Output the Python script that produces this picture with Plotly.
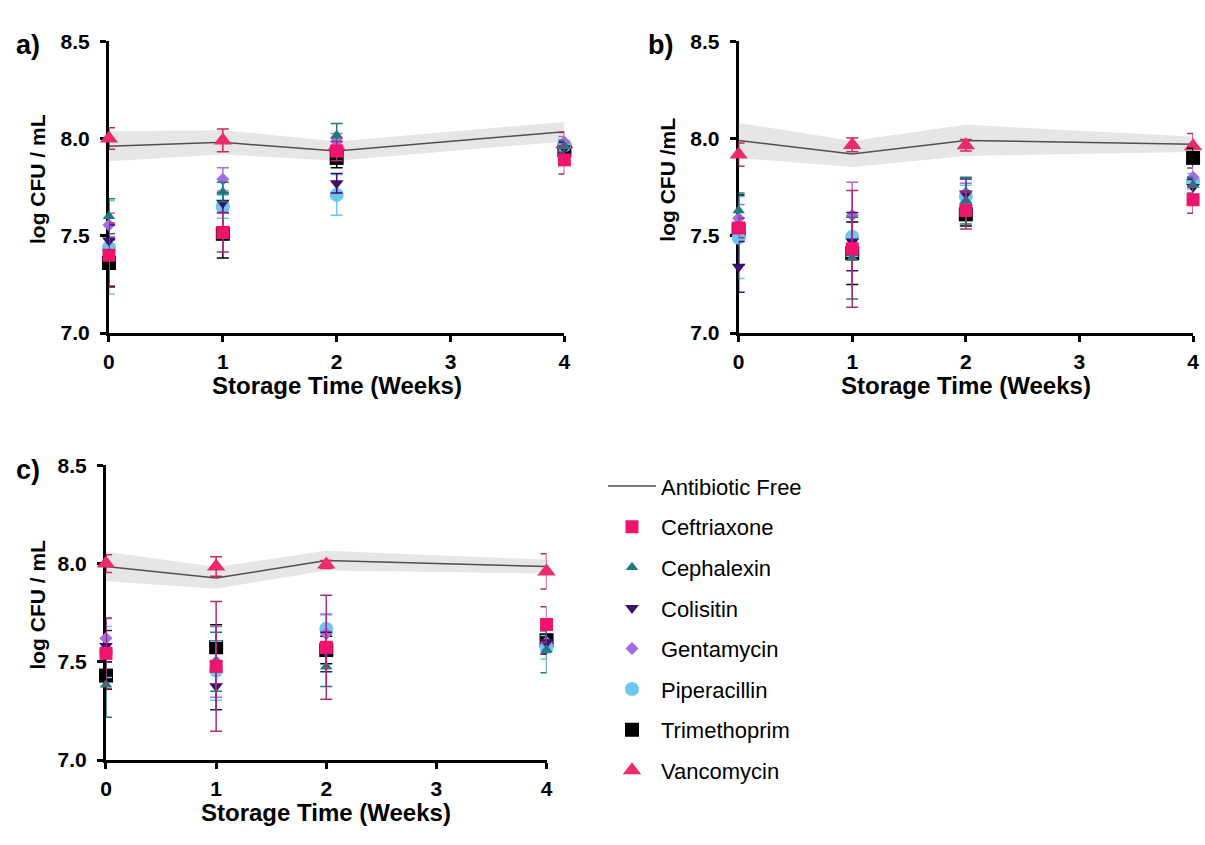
import plotly.graph_objects as go

W, H = 1205, 845

weeks = [0, 1, 2, 4]
x_ticks = [0, 1, 2, 3, 4]
y_ticks = [7.0, 7.5, 8.0, 8.5]
y_tick_labels = ["7.0", "7.5", "8.0", "8.5"]

series_names = ["Ceftriaxone", "Cephalexin", "Colisitin", "Gentamycin",
                "Piperacillin", "Trimethoprim", "Vancomycin"]

# ---- Panel a ----
a_free_mean = [7.96, 7.98, 7.935, 8.035]
a_free_sd = [0.077, 0.062, 0.05, 0.05]
a_ceftriaxone = [7.40, 7.517, 7.935, 7.89]
a_ceftriaxone_sd = [0.165, 0.10, 0.05, 0.073]
a_cephalexin = [7.60, 7.725, 8.017, 7.96]
a_cephalexin_sd = [0.09, 0.05, 0.06, 0.03]
a_colistin = [7.475, 7.67, 7.77, 7.95]
a_colistin_sd = [0.08, 0.05, 0.05, 0.03]
a_gentamycin = [7.555, 7.79, 7.985, 7.98]
a_gentamycin_sd = [0.06, 0.06, 0.04, 0.03]
a_piperacillin = [7.44, 7.65, 7.71, 7.965]
a_piperacillin_sd = [0.24, 0.06, 0.105, 0.03]
a_trimethoprim = [7.36, 7.51, 7.90, 7.94]
a_trimethoprim_sd = [0.12, 0.125, 0.05, 0.03]
a_vancomycin = [8.0, 7.99, 7.96, 7.97]
a_vancomycin_sd = [0.055, 0.058, 0.04, 0.06]

# ---- Panel b ----
b_free_mean = [7.99, 7.92, 7.99, 7.97]
b_free_sd = [0.09, 0.067, 0.08, 0.04]
b_ceftriaxone = [7.54, 7.433, 7.63, 7.685]
b_ceftriaxone_sd = [0.05, 0.30, 0.095, 0.07]
b_cephalexin = [7.63, 7.385, 7.68, 7.76]
b_cephalexin_sd = [0.09, 0.21, 0.12, 0.04]
b_colistin = [7.34, 7.47, 7.717, 7.75]
b_colistin_sd = [0.13, 0.15, 0.075, 0.04]
b_gentamycin = [7.59, 7.605, 7.72, 7.80]
b_gentamycin_sd = [0.07, 0.17, 0.05, 0.05]
b_piperacillin = [7.49, 7.495, 7.70, 7.78]
b_piperacillin_sd = [0.21, 0.10, 0.06, 0.04]
b_trimethoprim = [7.53, 7.41, 7.61, 7.90]
b_trimethoprim_sd = [0.18, 0.16, 0.06, 0.05]
b_vancomycin = [7.917, 7.967, 7.965, 7.96]
b_vancomycin_sd = [0.06, 0.035, 0.03, 0.065]

# ---- Panel c ----
c_free_mean = [7.985, 7.927, 8.015, 7.985]
c_free_sd = [0.075, 0.055, 0.05, 0.035]
c_ceftriaxone = [7.543, 7.477, 7.574, 7.69]
c_ceftriaxone_sd = [0.18, 0.33, 0.265, 0.09]
c_cephalexin = [7.383, 7.50, 7.475, 7.56]
c_cephalexin_sd = [0.165, 0.15, 0.10, 0.115]
c_colistin = [7.58, 7.376, 7.55, 7.60]
c_colistin_sd = [0.08, 0.12, 0.10, 0.06]
c_gentamycin = [7.62, 7.50, 7.643, 7.60]
c_gentamycin_sd = [0.10, 0.18, 0.10, 0.06]
c_piperacillin = [7.55, 7.455, 7.668, 7.574]
c_piperacillin_sd = [0.13, 0.15, 0.07, 0.06]
c_trimethoprim = [7.43, 7.574, 7.56, 7.61]
c_trimethoprim_sd = [0.07, 0.115, 0.07, 0.05]
c_vancomycin = [8.0, 7.985, 7.995, 7.96]
c_vancomycin_sd = [0.045, 0.05, 0.02, 0.09]

panels = {
    "a": dict(free=(a_free_mean, a_free_sd), series=[
        (a_ceftriaxone, a_ceftriaxone_sd), (a_cephalexin, a_cephalexin_sd),
        (a_colistin, a_colistin_sd), (a_gentamycin, a_gentamycin_sd),
        (a_piperacillin, a_piperacillin_sd), (a_trimethoprim, a_trimethoprim_sd),
        (a_vancomycin, a_vancomycin_sd)]),
    "b": dict(free=(b_free_mean, b_free_sd), series=[
        (b_ceftriaxone, b_ceftriaxone_sd), (b_cephalexin, b_cephalexin_sd),
        (b_colistin, b_colistin_sd), (b_gentamycin, b_gentamycin_sd),
        (b_piperacillin, b_piperacillin_sd), (b_trimethoprim, b_trimethoprim_sd),
        (b_vancomycin, b_vancomycin_sd)]),
    "c": dict(free=(c_free_mean, c_free_sd), series=[
        (c_ceftriaxone, c_ceftriaxone_sd), (c_cephalexin, c_cephalexin_sd),
        (c_colistin, c_colistin_sd), (c_gentamycin, c_gentamycin_sd),
        (c_piperacillin, c_piperacillin_sd), (c_trimethoprim, c_trimethoprim_sd),
        (c_vancomycin, c_vancomycin_sd)]),
}

styles = {
    "Ceftriaxone": dict(symbol="square", size=13, color="#F0146C", ecolor="#A8307A"),
    "Cephalexin": dict(symbol="triangle-up", size=11, color="#1F7A7A", ecolor="#1F7A7A"),
    "Colisitin": dict(symbol="triangle-down", size=12, color="#3A0F6E", ecolor="#3A0F6E"),
    "Gentamycin": dict(symbol="diamond", size=10, color="#A56BE3", ecolor="#A56BE3"),
    "Piperacillin": dict(symbol="circle", size=14, color="#6CC7F0", ecolor="#6CC7F0"),
    "Trimethoprim": dict(symbol="square", size=14, color="#000000", ecolor="#000000"),
    "Vancomycin": dict(symbol="triangle-up", size=16, color="#EC2A6E", ecolor="#D02560"),
}

# axis placement (pixels)
geom = {
    "a": dict(x0=104, x1=564, ytop=30, ybot=330, xa="x", ya="y"),
    "b": dict(x0=740, x1=1199, ytop=30, ybot=330, xa="x2", ya="y2"),
    "c": dict(x0=101, x1=546, ytop=466, ybot=769, xa="x3", ya="y3"),
}

fig = go.Figure()

for key, p in panels.items():
    g = geom[key]
    mean, sd = p["free"]
    upper = [m + s for m, s in zip(mean, sd)]
    lower = [m - s for m, s in zip(mean, sd)]
    show = key == "c"
    fig.add_trace(go.Scatter(x=weeks, y=lower, mode="lines", line=dict(width=0, color="#E6E6E6"),
                             xaxis=g["xa"], yaxis=g["ya"], showlegend=False, hoverinfo="skip"))
    fig.add_trace(go.Scatter(x=weeks, y=upper, mode="lines", line=dict(width=0, color="#E6E6E6"),
                             fill="tonexty", fillcolor="#E6E6E6",
                             xaxis=g["xa"], yaxis=g["ya"], showlegend=False, hoverinfo="skip"))
    fig.add_trace(go.Scatter(x=weeks, y=mean, mode="lines", name="Antibiotic Free",
                             line=dict(width=1.5, color="#505050"),
                             legendgroup="free", legendrank=1, showlegend=show,
                             xaxis=g["xa"], yaxis=g["ya"]))
    # reverse draw order: first series on top
    for idx in reversed(range(len(series_names))):
        name = series_names[idx]
        vals, errs = p["series"][idx]
        st = styles[name]
        fig.add_trace(go.Scatter(
            x=weeks, y=vals, mode="markers", name=name,
            marker=dict(symbol=st["symbol"], size=st["size"], color=st["color"],
                        line=dict(width=0)),
            error_y=dict(type="data", array=errs, visible=True, color=st["ecolor"],
                         thickness=1.5, width=6),
            cliponaxis=False, legendgroup=name, legendrank=idx + 2, showlegend=show,
            xaxis=g["xa"], yaxis=g["ya"]))

font_family = "Liberation Sans, Arial, sans-serif"
axis_common = dict(showline=True, linecolor="black", linewidth=3, ticks="outside",
                   ticklen=6, tickwidth=2.5, tickcolor="black", showgrid=False,
                   zeroline=False, layer="below traces",
                   tickfont=dict(family=font_family, size=21, color="black", weight="bold"))

layout = dict(width=W, height=H, margin=dict(l=0, r=0, t=0, b=0),
              paper_bgcolor="white", plot_bgcolor="white",
              font=dict(family=font_family, color="black"))

for key, g in geom.items():
    suffix = "" if key == "a" else ("2" if key == "b" else "3")
    layout["xaxis" + suffix] = dict(domain=[g["x0"] / W, g["x1"] / W], range=[0, 4],
                                    tickvals=x_ticks, anchor="y" + suffix,
                                    ticklabelstandoff=2, **axis_common)
    layout["yaxis" + suffix] = dict(domain=[1 - g["ybot"] / H, 1 - g["ytop"] / H],
                                    range=[7.0, 8.5], tickvals=y_ticks,
                                    ticktext=y_tick_labels, anchor="x" + suffix,
                                    ticklabelstandoff=6, **axis_common)

fig.update_layout(**layout)

fig.update_layout(legend=dict(x=603 / W, y=1 - 466 / H, xanchor="left", yanchor="top",
                              font=dict(family=font_family, size=22, color="black"),
                              tracegroupgap=9, itemsizing="trace", itemwidth=48,
                              bgcolor="rgba(0,0,0,0)"))

annotations = []
ytitles = {"a": "log CFU / mL", "b": "log CFU /mL", "c": "log CFU / mL"}
ytitle_x = {"a": 32, "b": 668, "c": 32}
labels_pos = {"a": (8, 34), "b": (646, 34), "c": (8, 471)}
for key, g in geom.items():
    annotations.append(dict(text="<b>Storage Time (Weeks)</b>", xref="paper", yref="paper",
                            x=(g["x0"] + g["x1"]) / 2 / W, y=1 - (g["ybot"] + 54) / H,
                            xanchor="center", yanchor="middle", showarrow=False,
                            font=dict(family=font_family, size=24, color="black")))
    annotations.append(dict(text="<b>" + ytitles[key] + "</b>", xref="paper", yref="paper",
                            x=ytitle_x[key] / W, y=1 - ((g["ytop"] + g["ybot"]) / 2 - 8) / H,
                            xanchor="center", yanchor="middle", textangle=-90, showarrow=False,
                            font=dict(family=font_family, size=21, color="black")))
    lx, ly = labels_pos[key]
    annotations.append(dict(text="<b>" + key + ")</b>", xref="paper", yref="paper",
                            x=lx / W, y=1 - ly / H, xanchor="left", yanchor="middle",
                            showarrow=False,
                            font=dict(family=font_family, size=27, color="black")))
fig.update_layout(annotations=annotations)

fig.write_html("out.html")
